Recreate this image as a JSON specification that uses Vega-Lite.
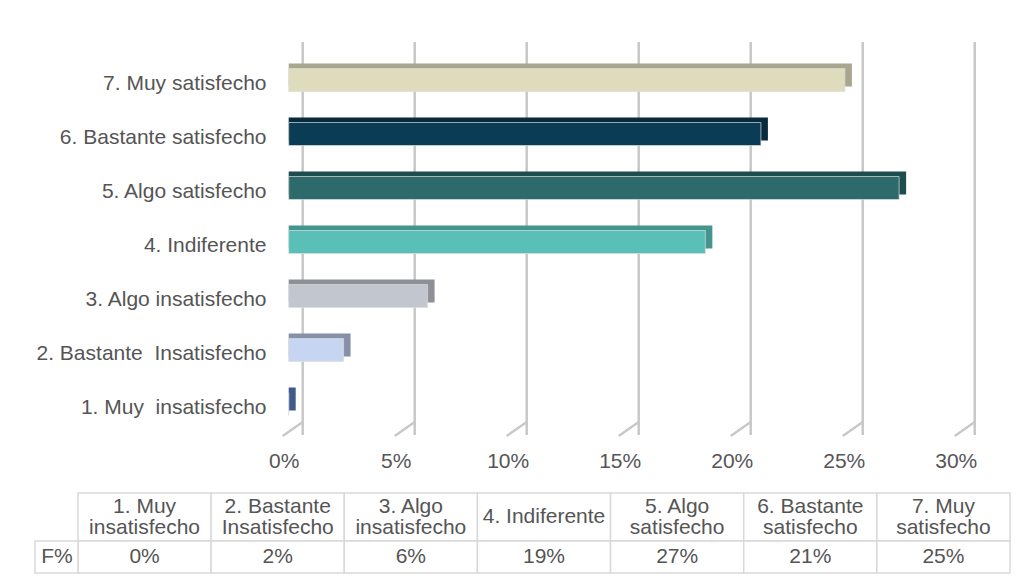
{
  "$schema": "https://vega.github.io/schema/vega-lite/v6.json",
  "padding": {"left": 34, "top": 40, "right": 5, "bottom": 5},
  "background": "white",
  "config": {
    "view": {"stroke": null},
    "font": "Liberation Sans",
    "text": {"font": "Liberation Sans"}
  },
  "datasets": {
    "d": [
      {"cat": "1. Muy\u00a0 insatisfecho", "head": "1. Muy\ninsatisfecho", "v": 0.0},
      {"cat": "2. Bastante\u00a0 Insatisfecho", "head": "2. Bastante\nInsatisfecho", "v": 0.0245},
      {"cat": "3. Algo insatisfecho", "head": "3. Algo\ninsatisfecho", "v": 0.062},
      {"cat": "4. Indiferente", "head": "4. Indiferente", "v": 0.186},
      {"cat": "5. Algo satisfecho", "head": "5. Algo\nsatisfecho", "v": 0.2725},
      {"cat": "6. Bastante satisfecho", "head": "6. Bastante\nsatisfecho", "v": 0.2108},
      {"cat": "7. Muy satisfecho", "head": "7. Muy\nsatisfecho", "v": 0.2483}
    ],
    "grid": [{"t": 0}, {"t": 0.05}, {"t": 0.1}, {"t": 0.15}, {"t": 0.2}, {"t": 0.25}, {"t": 0.3}],
    "flabel": [{"label": "F%"}]
  },
  "vconcat": [
    {
      "width": 932,
      "height": 378,
      "layer": [
        {
          "data": {"name": "grid"},
          "mark": {"type": "rule", "color": "#c8c8c8", "strokeWidth": 2.5, "xOffset": 14, "y": -15, "y2": "height", "y2Offset": -13},
          "encoding": {
            "x": {
              "field": "t", "type": "quantitative",
              "scale": {"domain": [-0.09406, 0.322], "nice": false, "zero": false},
              "axis": {
                "title": null, "grid": false, "domain": false, "ticks": false,
                "values": [0, 0.05, 0.1, 0.15, 0.2, 0.25, 0.3],
                "format": ".0%", "labelOffset": -5, "labelPadding": 15,
                "labelFontSize": 21, "labelColor": "#555555", "labelFont": "Liberation Sans"
              }
            }
          }
        },
        {
          "data": {"name": "grid"},
          "mark": {"type": "rule", "color": "#c8c8c8", "strokeWidth": 2.5, "xOffset": 14, "x2Offset": -6, "yOffset": -13, "y2Offset": 1},
          "encoding": {
            "x": {"field": "t", "type": "quantitative"},
            "x2": {"field": "t"},
            "y": {"value": "height"},
            "y2": {"value": "height"}
          }
        },
        {
          "data": {"name": "d"},
          "mark": {"type": "bar", "size": 23, "xOffset": 7, "yOffset": -9},
          "encoding": {
            "y": {
              "field": "cat", "type": "nominal", "sort": "descending",
              "scale": {"paddingInner": 0, "paddingOuter": 0},
              "axis": {
                "title": null, "domain": false, "ticks": false, "grid": false,
                "offset": -193, "labelPadding": 5, "labelFontSize": 21, "labelColor": "#555555",
                "labelLimit": 400, "labelFont": "Liberation Sans"
              }
            },
            "x": {"field": "v", "type": "quantitative"},
            "x2": {"datum": 0},
            "color": {
              "field": "cat", "type": "nominal", "legend": null,
              "scale": {
                "domain": ["1. Muy\u00a0 insatisfecho", "2. Bastante\u00a0 Insatisfecho", "3. Algo insatisfecho", "4. Indiferente", "5. Algo satisfecho", "6. Bastante satisfecho", "7. Muy satisfecho"],
                "range": ["#3e5b8b", "#8690a8", "#8d9097", "#45958f", "#1f4d4d", "#072b3d", "#a8a68e"]
              }
            }
          }
        },
        {
          "data": {"name": "d"},
          "mark": {"type": "bar", "size": 23, "yOffset": -4, "stroke": "#dcdcdc", "strokeWidth": 0.7},
          "encoding": {
            "y": {"field": "cat", "type": "nominal", "sort": "descending"},
            "x": {"field": "v", "type": "quantitative"},
            "x2": {"datum": 0},
            "color": {
              "field": "cat", "type": "nominal", "legend": null,
              "scale": {
                "domain": ["1. Muy\u00a0 insatisfecho", "2. Bastante\u00a0 Insatisfecho", "3. Algo insatisfecho", "4. Indiferente", "5. Algo satisfecho", "6. Bastante satisfecho", "7. Muy satisfecho"],
                "range": ["#4a6aa0", "#c5d5f2", "#c2c6cf", "#5abfb7", "#2d6a6b", "#0b3c55", "#dedcbd"]
              }
            }
          }
        }
      ],
      "resolve": {"scale": {"color": "independent"}}
    },
    {
      "spacing": 0,
      "bounds": "flush",
      "vconcat": [
        {
          "width": 932,
          "height": 48,
          "data": {"name": "d"},
          "layer": [
            {
              "mark": {"type": "rect", "fill": "white", "stroke": "#d9d9d9", "strokeWidth": 1.5},
              "encoding": {
                "x": {"field": "cat", "type": "nominal", "sort": "ascending", "axis": null, "scale": {"paddingInner": 0, "paddingOuter": 0}}
              }
            },
            {
              "mark": {"type": "text", "fontSize": 21, "color": "#555555", "lineBreak": "\n", "lineHeight": 21, "dy": {"expr": "indexof(datum.head, '\\n') >= 0 ? -10.5 : 0"}},
              "encoding": {
                "x": {"field": "cat", "type": "nominal", "sort": "ascending"},
                "text": {"field": "head"}
              }
            }
          ]
        },
        {
          "width": 932,
          "height": 32,
          "layer": [
            {
              "data": {"name": "d"},
              "mark": {"type": "rect", "fill": "white", "stroke": "#d9d9d9", "strokeWidth": 1.5},
              "encoding": {
                "x": {"field": "cat", "type": "nominal", "sort": "ascending", "axis": null, "scale": {"paddingInner": 0, "paddingOuter": 0}}
              }
            },
            {
              "data": {"name": "d"},
              "mark": {"type": "text", "fontSize": 21, "color": "#555555"},
              "encoding": {
                "x": {"field": "cat", "type": "nominal", "sort": "ascending"},
                "text": {"field": "v", "type": "quantitative", "format": ".0%"}
              }
            },
            {
              "data": {"name": "flabel"},
              "mark": {"type": "rect", "fill": "white", "stroke": "#d9d9d9", "strokeWidth": 1.5, "xOffset": -43},
              "encoding": {
                "x": {"datum": "1. Muy\u00a0 insatisfecho", "bandPosition": 0},
                "x2": {"datum": "1. Muy\u00a0 insatisfecho", "bandPosition": 0}
              }
            },
            {
              "data": {"name": "flabel"},
              "mark": {"type": "text", "fontSize": 21, "color": "#555555", "xOffset": -21},
              "encoding": {
                "x": {"datum": "1. Muy\u00a0 insatisfecho", "bandPosition": 0},
                "text": {"field": "label"}
              }
            }
          ]
        }
      ]
    }
  ],
  "spacing": 21
}
